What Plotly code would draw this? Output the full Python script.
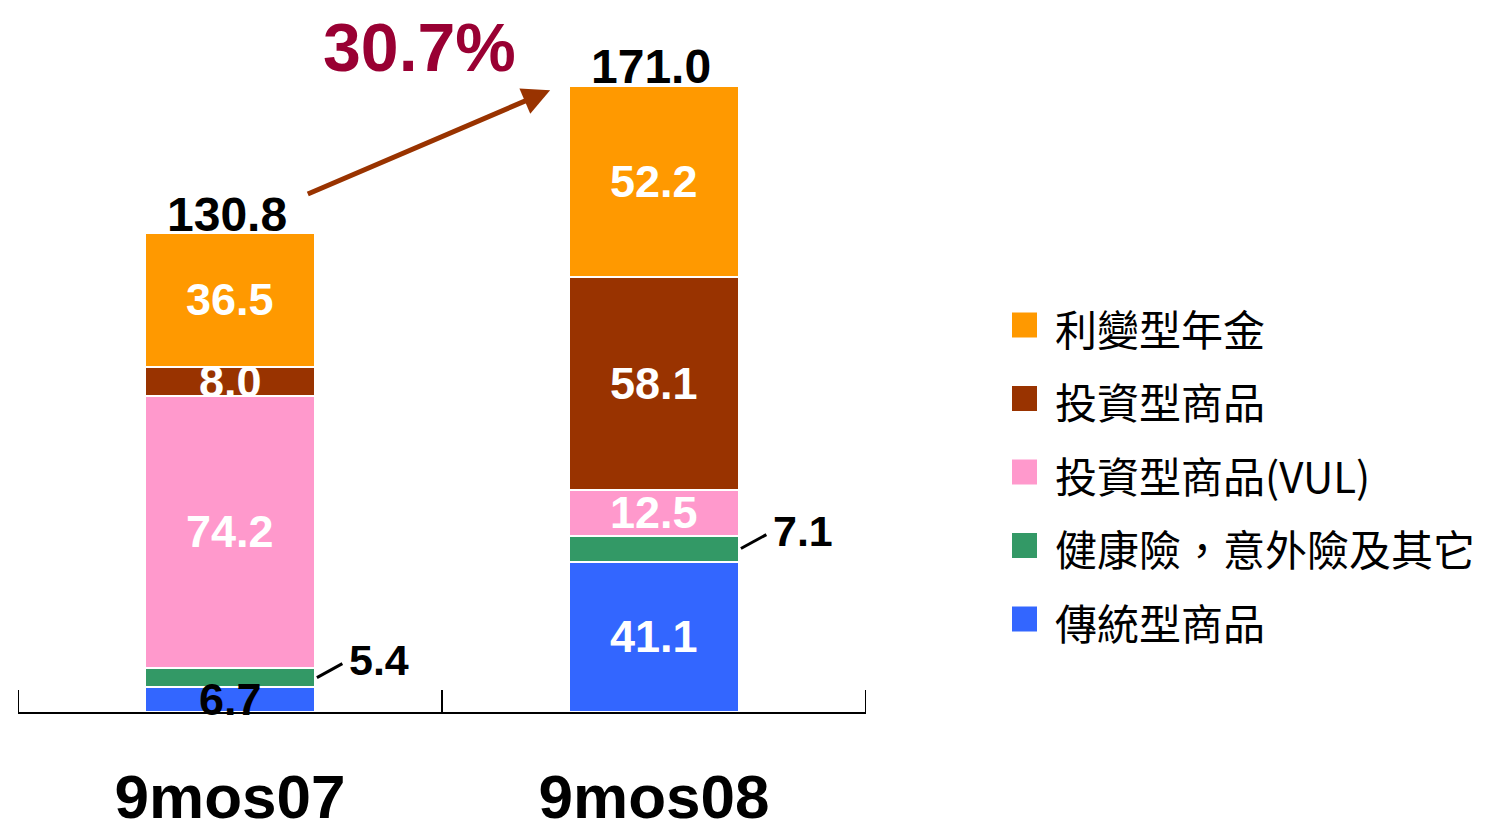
import plotly.graph_objects as go

# ---------------- data ----------------
categories = ["9mos07", "9mos08"]
series_names = ["傳統型商品", "健康險，意外險及其它", "投資型商品(VUL)", "投資型商品", "利變型年金"]
traditional = [6.7, 41.1]
health_accident = [5.4, 7.1]
vul = [74.2, 12.5]
investment = [8.0, 58.1]
annuity = [36.5, 52.2]
totals = [130.8, 171.0]
series_values = [traditional, health_accident, vul, investment, annuity]
colors = ["#3366FF", "#339966", "#FF99CC", "#993300", "#FF9900"]

growth = (totals[1] / totals[0] - 1) * 100

FONT = "Liberation Sans, Arial, sans-serif"
CJK = "Noto Sans CJK TC"

# page has an 8px body margin; figure fills the rest of the window
OFF = 8
W, H = 1509 - OFF, 834 - OFF
ML, MR, MT, MB = 18 - OFF, 643, 20 - OFF, 122
plot_h = H - MT - MB
plot_w = W - ML - MR
YMAX = 189.0

fig = go.Figure()
for name, vals, col in zip(series_names, series_values, colors):
    fig.add_trace(go.Bar(
        x=categories, y=vals, name=name,
        marker=dict(color=col, line=dict(color="white", width=2)),
        width=0.4, showlegend=False, hoverinfo="x+y+name",
    ))

annotations = []
shapes = []

# value labels
outside = {(1, 0), (1, 1)}      # (series, category) labelled outside with leader
black_inside = {(0, 0)}
for j, cat in enumerate(categories):
    base = 0.0
    for i, vals in enumerate(series_values):
        v = vals[j]
        mid = base + v / 2
        if (i, j) in outside:
            x0 = j + 0.2
            shapes.append(dict(type="line", xref="x", yref="y",
                               x0=x0 + 0.005, y0=mid, x1=x0 + 0.065, y1=mid + 3.8,
                               line=dict(color="black", width=3)))
            annotations.append(dict(x=x0 + 0.075, y=mid + 4.9, xref="x", yref="y",
                                    text=f"{v:.1f}", showarrow=False, xanchor="left",
                                    yanchor="middle",
                                    font=dict(family=FONT, size=43, color="black", weight="bold")))
        else:
            c = "black" if (i, j) in black_inside else "white"
            annotations.append(dict(x=j, y=mid, xref="x", yref="y",
                                    text=f"{v:.1f}", showarrow=False, yanchor="middle",
                                    font=dict(family=FONT, size=45, color=c, weight="bold")))
        base += v

# totals
for j, t in enumerate(totals):
    annotations.append(dict(x=j - 0.008, y=t, xref="x", yref="y", text=f"{t:.1f}",
                            showarrow=False, yanchor="middle", yshift=19,
                            font=dict(family=FONT, size=48, color="black", weight="bold")))

# growth arrow + label
annotations.append(dict(x=0.755, y=totals[1] - 1.2, ax=0.18, ay=totals[0] + 10.5,
                        xref="x", yref="y", axref="x", ayref="y",
                        text="", showarrow=True, arrowhead=2, arrowsize=1.1,
                        arrowwidth=5, arrowcolor="#993300"))
annotations.append(dict(x=0.448, y=totals[1] + 12, xref="x", yref="y", yshift=-5,
                        text=f"{growth:.1f}%", showarrow=False, yanchor="middle",
                        font=dict(family=FONT, size=68, color="#990033", weight="bold")))

# end ticks of the category axis (boundaries at both ends)
for xb in (-0.5, len(categories) - 0.5):
    shapes.append(dict(type="line", xref="x", yref="paper", x0=xb, x1=xb,
                       y0=0, y1=22 / plot_h, line=dict(color="black", width=2)))

# custom legend (top to bottom: reversed stack order)
def px_x(p):
    return (p - OFF - ML) / plot_w
def px_y(p):
    return (H - MB - (p - OFF)) / plot_h

leg_y0, leg_dy = 325, 73.5
for k, i in enumerate(reversed(range(len(series_names)))):
    cy = leg_y0 + k * leg_dy
    shapes.append(dict(type="rect", xref="paper", yref="paper",
                       x0=px_x(1012), x1=px_x(1037), y0=px_y(cy - 12.5), y1=px_y(cy + 12.5),
                       fillcolor=colors[i], line=dict(width=0)))
    annotations.append(dict(x=px_x(1053), y=px_y(cy + 2), xref="paper", yref="paper",
                            text=series_names[i], showarrow=False, xanchor="left",
                            yanchor="middle",
                            font=dict(family=CJK, size=42, color="black")))

fig.update_layout(
    width=W, height=H,
    margin=dict(l=ML, r=MR, t=MT, b=MB, autoexpand=False),
    barmode="stack", bargap=0.6,
    plot_bgcolor="white", paper_bgcolor="white",
    showlegend=False,
    xaxis=dict(type="category", range=[-0.5, 1.5], showline=True, linecolor="black",
               linewidth=2, ticks="inside", ticklen=22, tickwidth=2, tickcolor="black",
               tickson="boundaries", showgrid=False, zeroline=False, automargin=False,
               tickfont=dict(family=FONT, size=62, color="black", weight="bold"),
               ticklabelstandoff=30),
    yaxis=dict(range=[0, YMAX], visible=False, showgrid=False, zeroline=False,
               automargin=False),
    annotations=annotations, shapes=shapes,
)

fig.write_html("out.html")
